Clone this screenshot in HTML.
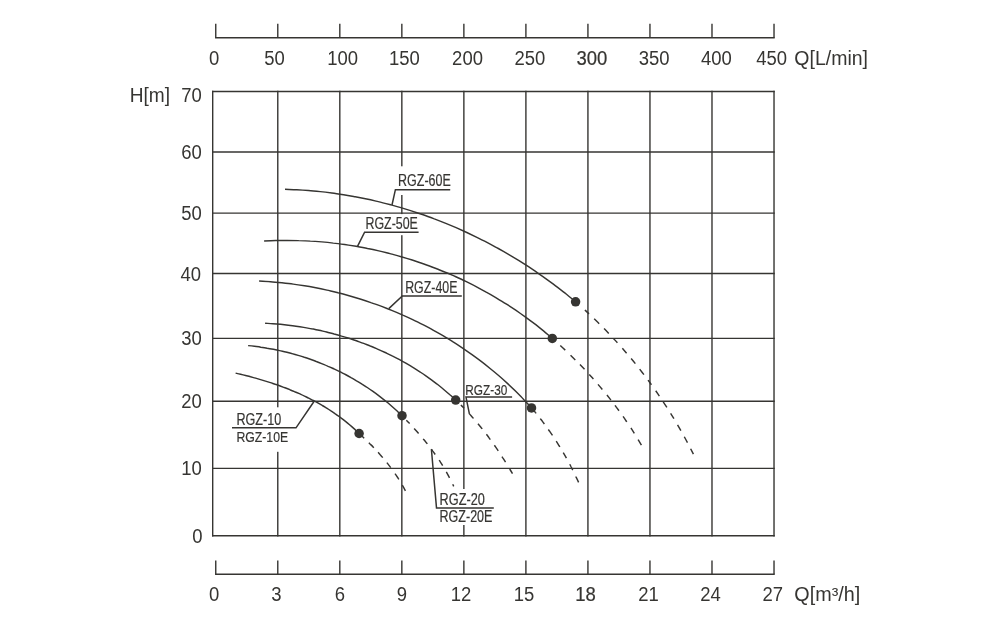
<!DOCTYPE html>
<html lang="en"><head><meta charset="utf-8"><title>RGZ pump performance curves</title>
<style>
html,body{margin:0;padding:0;background:#fff;}
body{width:1000px;height:623px;overflow:hidden;}
svg{display:block;}
text{font-family:"Liberation Sans",sans-serif;fill:#363532;}
.ax{font-size:19.6px;}
.lb{font-size:17px;stroke:#363532;stroke-width:0.2px;}
.bd{stroke:#363532;stroke-width:0.22px;}
</style></head><body>
<svg width="1000" height="623" viewBox="0 0 1000 623">
<rect width="1000" height="623" fill="#fff"/>

<g stroke="#363532" stroke-width="1.4" fill="none" stroke-linecap="butt">
<line x1="212.70" y1="90.80" x2="212.70" y2="536.40"/>
<line x1="277.78" y1="90.80" x2="277.78" y2="536.40"/>
<line x1="339.81" y1="90.80" x2="339.81" y2="536.40"/>
<line x1="401.84" y1="90.80" x2="401.84" y2="536.40"/>
<line x1="463.87" y1="90.80" x2="463.87" y2="536.40"/>
<line x1="525.90" y1="90.80" x2="525.90" y2="536.40"/>
<line x1="587.93" y1="90.80" x2="587.93" y2="536.40"/>
<line x1="649.96" y1="90.80" x2="649.96" y2="536.40"/>
<line x1="711.99" y1="90.80" x2="711.99" y2="536.40"/>
<line x1="774.02" y1="90.80" x2="774.02" y2="536.40"/>
<line x1="212.00" y1="91.50" x2="774.72" y2="91.50"/>
<line x1="212.00" y1="152.00" x2="774.72" y2="152.00"/>
<line x1="212.00" y1="213.10" x2="774.72" y2="213.10"/>
<line x1="212.00" y1="273.50" x2="774.72" y2="273.50"/>
<line x1="212.00" y1="338.40" x2="774.72" y2="338.40"/>
<line x1="212.00" y1="401.30" x2="774.72" y2="401.30"/>
<line x1="212.00" y1="468.40" x2="774.72" y2="468.40"/>
<line x1="212.00" y1="535.70" x2="774.72" y2="535.70"/>
<line x1="215.05" y1="37.8" x2="774.72" y2="37.8"/>
<line x1="215.75" y1="23.7" x2="215.75" y2="37.8"/>
<line x1="277.78" y1="23.7" x2="277.78" y2="37.8"/>
<line x1="339.81" y1="23.7" x2="339.81" y2="37.8"/>
<line x1="401.84" y1="23.7" x2="401.84" y2="37.8"/>
<line x1="463.87" y1="23.7" x2="463.87" y2="37.8"/>
<line x1="525.90" y1="23.7" x2="525.90" y2="37.8"/>
<line x1="587.93" y1="23.7" x2="587.93" y2="37.8"/>
<line x1="649.96" y1="23.7" x2="649.96" y2="37.8"/>
<line x1="711.99" y1="23.7" x2="711.99" y2="37.8"/>
<line x1="774.02" y1="23.7" x2="774.02" y2="37.8"/>
<line x1="215.05" y1="574.2" x2="774.72" y2="574.2"/>
<line x1="215.75" y1="560.5" x2="215.75" y2="574.2"/>
<line x1="277.78" y1="560.5" x2="277.78" y2="574.2"/>
<line x1="339.81" y1="560.5" x2="339.81" y2="574.2"/>
<line x1="401.84" y1="560.5" x2="401.84" y2="574.2"/>
<line x1="463.87" y1="560.5" x2="463.87" y2="574.2"/>
<line x1="525.90" y1="560.5" x2="525.90" y2="574.2"/>
<line x1="587.93" y1="560.5" x2="587.93" y2="574.2"/>
<line x1="649.96" y1="560.5" x2="649.96" y2="574.2"/>
<line x1="711.99" y1="560.5" x2="711.99" y2="574.2"/>
<line x1="774.02" y1="560.5" x2="774.02" y2="574.2"/>
</g>
<rect x="395.0" y="166.3" width="58.0" height="28.7" fill="#fff"/>
<rect x="364.5" y="214.1" width="54.0" height="21.1" fill="#fff"/>
<rect x="232.0" y="407.3" width="58.0" height="44.5" fill="#fff"/>
<rect x="437.0" y="489.0" width="57.0" height="36.0" fill="#fff"/>
<g stroke="#363532" stroke-width="1.45" fill="none" stroke-linecap="butt" stroke-linejoin="round">
<path d="M285.0,189.3C287.0,189.4 292.9,189.5 296.8,189.7C300.7,190.0 304.6,190.2 308.5,190.5C312.5,190.8 316.4,191.2 320.3,191.6C324.2,192.0 328.1,192.5 331.9,193.0C335.8,193.5 339.7,194.1 343.6,194.7C347.5,195.3 351.3,196.0 355.2,196.7C359.0,197.4 362.9,198.2 366.7,199.0C370.5,199.8 374.3,200.7 378.2,201.6C382.0,202.5 385.8,203.5 389.6,204.5C393.3,205.5 397.1,206.5 400.9,207.6C404.6,208.8 408.4,209.9 412.1,211.1C415.8,212.3 419.5,213.6 423.2,214.8C426.9,216.1 430.6,217.5 434.3,218.9C438.0,220.2 441.6,221.7 445.2,223.1C448.9,224.6 452.5,226.1 456.1,227.7C459.7,229.3 463.3,230.9 466.8,232.5C470.4,234.2 473.9,235.9 477.4,237.6C480.9,239.3 484.4,241.1 487.9,242.9C491.4,244.7 494.8,246.6 498.3,248.5C501.7,250.4 505.1,252.4 508.5,254.3C511.9,256.3 515.2,258.4 518.6,260.4C521.9,262.5 525.2,264.6 528.5,266.7C531.8,268.9 535.0,271.1 538.2,273.3C541.5,275.5 544.7,277.8 547.8,280.1C551.0,282.4 554.2,284.7 557.3,287.1C560.4,289.5 563.5,291.9 566.5,294.3C569.6,296.8 574.1,300.6 575.6,301.8"/>
<path d="M575.6,301.8C577.2,303.2 582.1,307.5 585.3,310.4C588.4,313.3 591.6,316.3 594.7,319.3C597.8,322.3 600.8,325.3 603.9,328.4C606.9,331.4 609.9,334.6 612.8,337.7C615.7,340.9 618.6,344.0 621.5,347.3C624.3,350.5 627.1,353.8 629.9,357.1C632.7,360.4 635.4,363.7 638.1,367.1C640.7,370.5 643.4,373.9 646.0,377.3C648.5,380.8 651.1,384.2 653.6,387.7C656.1,391.3 658.5,394.8 660.9,398.4C663.3,401.9 665.7,405.5 668.0,409.2C670.3,412.8 672.6,416.5 674.8,420.2C677.0,423.9 679.2,427.6 681.3,431.4C683.4,435.1 685.5,438.9 687.5,442.7C689.5,446.5 692.4,452.3 693.4,454.2" stroke-dasharray="0.0 12.4 5.7 7.1 7.0 6.9 6.7 6.9 5.9 7.4 6.5 7.0 6.6 7.0 6.9 6.9 5.7 7.4 6.5 6.9 6.7 7.0 6.3 7.1 6.7 7.0 6.7 6.9 6.7 50.0"/>
<path d="M264.1,241.0C266.0,240.9 271.8,240.6 275.6,240.5C279.5,240.4 283.3,240.4 287.2,240.4C291.0,240.4 294.9,240.4 298.7,240.6C302.6,240.7 306.4,240.8 310.3,241.1C314.1,241.3 318.0,241.6 321.8,241.9C325.6,242.2 329.5,242.6 333.3,243.1C337.1,243.5 340.9,244.0 344.7,244.5C348.5,245.1 352.4,245.7 356.1,246.3C359.9,247.0 363.7,247.7 367.5,248.5C371.3,249.2 375.0,250.0 378.8,250.9C382.5,251.7 386.3,252.7 390.0,253.6C393.7,254.6 397.5,255.6 401.2,256.7C404.9,257.8 408.5,258.9 412.2,260.0C415.9,261.2 419.5,262.4 423.2,263.7C426.8,265.0 430.4,266.3 434.0,267.7C437.6,269.1 441.2,270.5 444.7,272.0C448.3,273.4 451.8,275.0 455.3,276.5C458.8,278.1 462.3,279.7 465.8,281.4C469.2,283.1 472.7,284.8 476.1,286.6C479.5,288.4 482.9,290.2 486.2,292.1C489.6,293.9 492.9,295.8 496.2,297.8C499.5,299.8 502.8,301.8 506.1,303.9C509.3,305.9 512.5,308.0 515.7,310.2C518.9,312.4 522.0,314.6 525.2,316.8C528.3,319.1 531.4,321.4 534.4,323.7C537.5,326.1 540.5,328.5 543.5,330.9C546.5,333.4 550.8,337.2 552.3,338.4"/>
<path d="M552.3,338.4C553.5,339.4 557.0,342.5 559.3,344.6C561.6,346.7 563.8,348.8 566.1,350.9C568.3,353.1 570.6,355.2 572.8,357.4C575.0,359.6 577.2,361.8 579.4,364.0C581.5,366.2 583.7,368.5 585.8,370.7C587.9,373.0 590.0,375.3 592.1,377.6C594.1,379.9 596.2,382.2 598.2,384.6C600.2,386.9 602.2,389.3 604.2,391.7C606.2,394.1 608.1,396.5 610.0,398.9C611.9,401.4 613.8,403.8 615.7,406.3C617.5,408.8 619.4,411.3 621.2,413.8C623.0,416.3 624.8,418.9 626.5,421.5C628.2,424.0 630.0,426.6 631.7,429.2C633.3,431.8 635.0,434.4 636.6,437.1C638.2,439.7 640.6,443.8 641.4,445.1" stroke-dasharray="0.0 10.7 6.8 7.3 6.7 6.6 6.6 7.0 6.2 7.0 6.7 7.2 6.4 6.7 6.7 7.0 6.6 7.4 6.4 7.2 7.0 50.0"/>
<path d="M259.1,281.0C261.0,281.1 266.7,281.4 270.5,281.7C274.3,282.0 278.1,282.4 281.9,282.8C285.7,283.2 289.5,283.6 293.2,284.1C297.0,284.6 300.8,285.2 304.5,285.8C308.3,286.4 312.1,287.1 315.8,287.8C319.5,288.5 323.3,289.3 327.0,290.1C330.7,291.0 334.4,291.8 338.1,292.8C341.8,293.7 345.5,294.7 349.1,295.7C352.8,296.8 356.5,297.9 360.1,299.0C363.7,300.1 367.3,301.3 370.9,302.6C374.5,303.8 378.1,305.1 381.7,306.4C385.2,307.8 388.8,309.2 392.3,310.6C395.8,312.0 399.3,313.5 402.8,315.1C406.3,316.6 409.7,318.2 413.2,319.9C416.6,321.5 420.0,323.2 423.4,324.9C426.8,326.7 430.1,328.4 433.5,330.3C436.8,332.1 440.1,334.0 443.4,335.9C446.6,337.9 449.9,339.8 453.1,341.9C456.3,343.9 459.5,346.0 462.6,348.1C465.8,350.2 468.9,352.4 472.0,354.6C475.1,356.8 478.2,359.1 481.2,361.4C484.2,363.7 487.2,366.1 490.1,368.5C493.1,370.9 496.0,373.3 498.9,375.8C501.8,378.3 504.6,380.8 507.4,383.4C510.2,386.0 513.0,388.6 515.7,391.3C518.4,394.0 521.1,396.7 523.7,399.5C526.4,402.2 530.2,406.5 531.5,407.9"/>
<path d="M531.5,407.9C532.1,408.7 534.1,410.9 535.3,412.4C536.6,413.9 537.8,415.4 539.0,417.0C540.2,418.5 541.4,420.1 542.6,421.6C543.8,423.2 545.0,424.8 546.1,426.4C547.3,428.0 548.4,429.6 549.6,431.2C550.7,432.8 551.8,434.4 552.9,436.0C554.0,437.7 555.1,439.3 556.1,441.0C557.2,442.6 558.2,444.3 559.3,446.0C560.3,447.6 561.3,449.3 562.3,451.0C563.3,452.7 564.3,454.4 565.3,456.1C566.2,457.8 567.2,459.6 568.1,461.3C569.1,463.0 570.0,464.7 570.9,466.5C571.8,468.2 572.7,470.0 573.5,471.8C574.4,473.5 575.3,475.3 576.1,477.1C577.0,478.8 578.2,481.5 578.6,482.4" stroke-dasharray="7.2 6.6 6.8 6.8 7.2 6.9 6.8 6.6 6.4 7.0 6.5 7.1 7.0 50.0"/>
<path d="M265.1,323.2C266.4,323.3 270.3,323.5 272.8,323.7C275.4,323.9 278.0,324.1 280.6,324.3C283.2,324.6 285.7,324.9 288.3,325.2C290.9,325.5 293.4,325.8 296.0,326.2C298.6,326.6 301.1,327.0 303.7,327.4C306.3,327.8 308.8,328.3 311.4,328.8C313.9,329.2 316.4,329.8 319.0,330.3C321.5,330.9 324.1,331.4 326.6,332.0C329.1,332.7 331.6,333.3 334.1,334.0C336.6,334.6 339.1,335.3 341.6,336.1C344.1,336.8 346.6,337.5 349.1,338.3C351.5,339.1 354.0,339.9 356.4,340.8C358.9,341.7 361.3,342.5 363.7,343.4C366.2,344.4 368.6,345.3 371.0,346.3C373.4,347.2 375.8,348.3 378.1,349.3C380.5,350.3 382.9,351.4 385.2,352.5C387.5,353.6 389.9,354.7 392.2,355.9C394.5,357.0 396.8,358.2 399.1,359.4C401.3,360.7 403.6,361.9 405.8,363.2C408.1,364.5 410.3,365.8 412.5,367.2C414.7,368.5 416.9,369.9 419.1,371.3C421.2,372.7 423.4,374.1 425.5,375.6C427.6,377.1 429.7,378.6 431.8,380.1C433.9,381.7 436.0,383.2 438.0,384.8C440.0,386.4 442.1,388.1 444.0,389.7C446.0,391.4 448.0,393.1 449.9,394.8C451.9,396.5 454.7,399.2 455.7,400.1"/>
<path d="M455.7,400.1C456.5,400.8 458.7,403.0 460.2,404.4C461.7,405.9 463.2,407.3 464.6,408.8C466.0,410.3 467.5,411.8 468.9,413.3C470.3,414.9 471.7,416.4 473.0,417.9C474.4,419.5 475.8,421.1 477.1,422.7C478.4,424.2 479.8,425.8 481.1,427.5C482.4,429.1 483.6,430.7 484.9,432.3C486.2,434.0 487.4,435.6 488.7,437.3C489.9,439.0 491.1,440.6 492.3,442.3C493.5,444.0 494.7,445.7 495.9,447.4C497.1,449.1 498.2,450.8 499.4,452.6C500.5,454.3 501.7,456.0 502.8,457.8C503.9,459.5 505.0,461.3 506.1,463.0C507.2,464.8 508.3,466.6 509.3,468.4C510.4,470.1 512.0,472.8 512.5,473.7" stroke-dasharray="0.0 7.1 4.6 7.4 6.4 7.0 6.7 6.8 6.6 7.0 6.8 6.8 6.6 8.1 5.9 50.0"/>
<path d="M248.1,345.6C249.2,345.7 252.3,346.0 254.4,346.3C256.6,346.6 258.7,346.8 260.8,347.2C262.9,347.5 265.0,347.8 267.1,348.2C269.2,348.5 271.3,348.9 273.4,349.3C275.5,349.7 277.5,350.1 279.6,350.6C281.7,351.1 283.8,351.5 285.8,352.0C287.9,352.6 290.0,353.1 292.0,353.6C294.1,354.2 296.1,354.8 298.2,355.4C300.2,356.0 302.2,356.6 304.3,357.3C306.3,357.9 308.3,358.6 310.3,359.3C312.3,360.0 314.3,360.7 316.3,361.5C318.3,362.2 320.3,363.0 322.3,363.8C324.2,364.6 326.2,365.4 328.1,366.3C330.1,367.1 332.0,368.0 334.0,368.9C335.9,369.8 337.8,370.7 339.7,371.6C341.6,372.6 343.5,373.5 345.4,374.5C347.3,375.5 349.1,376.5 351.0,377.6C352.9,378.6 354.7,379.7 356.5,380.8C358.4,381.8 360.2,382.9 362.0,384.1C363.8,385.2 365.5,386.4 367.3,387.5C369.1,388.7 370.8,389.9 372.6,391.2C374.3,392.4 376.0,393.6 377.7,394.9C379.4,396.2 381.1,397.5 382.8,398.8C384.5,400.1 386.1,401.4 387.8,402.8C389.4,404.2 391.0,405.6 392.6,407.0C394.2,408.4 395.8,409.8 397.4,411.3C398.9,412.7 401.2,415.0 402.0,415.7"/>
<path d="M402.0,415.7C402.7,416.4 404.7,418.5 406.1,419.9C407.5,421.3 408.8,422.7 410.1,424.1C411.5,425.6 412.8,427.0 414.1,428.5C415.4,429.9 416.8,431.4 418.0,432.8C419.3,434.3 420.6,435.8 421.9,437.3C423.1,438.8 424.4,440.3 425.6,441.8C426.9,443.3 428.1,444.9 429.3,446.4C430.5,448.0 431.7,449.5 432.8,451.1C434.0,452.7 435.1,454.3 436.2,455.9C437.4,457.5 438.5,459.1 439.5,460.7C440.6,462.4 441.7,464.0 442.7,465.7C443.7,467.3 444.7,469.0 445.7,470.7C446.7,472.4 447.6,474.1 448.5,475.8C449.4,477.6 450.3,479.3 451.2,481.1C452.1,482.8 453.3,485.5 453.7,486.4" stroke-dasharray="0.0 6.2 4.8 6.7 6.6 7.1 6.5 6.6 6.6 7.0 6.4 7.2 6.8 7.2 2.7 50.0"/>
<path d="M235.6,373.1C236.4,373.3 238.9,373.9 240.6,374.3C242.3,374.7 243.9,375.1 245.6,375.5C247.2,375.9 248.9,376.3 250.6,376.8C252.2,377.2 253.9,377.7 255.6,378.1C257.2,378.6 258.9,379.1 260.5,379.6C262.2,380.1 263.8,380.6 265.5,381.1C267.1,381.6 268.8,382.1 270.4,382.6C272.0,383.2 273.7,383.7 275.3,384.3C276.9,384.8 278.6,385.4 280.2,386.0C281.8,386.6 283.4,387.2 285.0,387.8C286.7,388.4 288.3,389.0 289.9,389.7C291.5,390.3 293.1,391.0 294.6,391.7C296.2,392.3 297.8,393.0 299.4,393.7C300.9,394.4 302.5,395.1 304.1,395.9C305.6,396.6 307.2,397.4 308.7,398.1C310.2,398.9 311.8,399.7 313.3,400.5C314.8,401.3 316.3,402.1 317.8,402.9C319.3,403.8 320.8,404.6 322.3,405.5C323.8,406.3 325.2,407.2 326.7,408.1C328.1,409.0 329.6,410.0 331.0,410.9C332.5,411.8 333.9,412.8 335.3,413.8C336.7,414.7 338.1,415.7 339.5,416.8C340.8,417.8 342.2,418.8 343.6,419.9C344.9,420.9 346.3,422.0 347.6,423.1C348.9,424.2 350.2,425.3 351.5,426.4C352.8,427.6 354.1,428.7 355.4,429.9C356.6,431.1 358.5,432.9 359.1,433.5"/>
<path d="M359.1,433.5C359.7,434.1 361.5,435.7 362.7,436.8C363.9,438.0 365.1,439.1 366.3,440.2C367.5,441.4 368.7,442.5 369.8,443.7C371.0,444.9 372.2,446.0 373.3,447.2C374.4,448.4 375.6,449.6 376.7,450.8C377.8,452.0 378.9,453.2 380.0,454.5C381.1,455.7 382.2,457.0 383.2,458.2C384.3,459.5 385.4,460.7 386.4,462.0C387.4,463.3 388.4,464.6 389.4,465.9C390.4,467.2 391.4,468.5 392.4,469.9C393.3,471.2 394.3,472.5 395.2,473.9C396.2,475.2 397.1,476.6 398.0,478.0C398.8,479.4 399.7,480.8 400.6,482.2C401.4,483.6 402.2,485.0 403.0,486.4C403.9,487.9 405.0,490.1 405.4,490.8" stroke-dasharray="6.9 6.5 7.1 6.3 7.0 6.5 6.4 7.3 7.0 6.7 6.9 50.0"/>
</g>
<circle cx="575.6" cy="301.8" r="4.75" fill="#363532"/>
<circle cx="552.3" cy="338.4" r="4.75" fill="#363532"/>
<circle cx="531.5" cy="407.9" r="4.75" fill="#363532"/>
<circle cx="455.7" cy="400.1" r="4.75" fill="#363532"/>
<circle cx="402.0" cy="415.7" r="4.75" fill="#363532"/>
<circle cx="359.1" cy="433.5" r="4.75" fill="#363532"/>
<g stroke="#363532" stroke-width="1.5" fill="none" stroke-linejoin="miter">
<polyline points="450.2,189.7 395.4,189.7 392,205"/>
<polyline points="418.6,232.2 364.6,232.2 357.5,246.4"/>
<polyline points="461.8,296 402.3,296 388.8,308.6"/>
<polyline points="512.1,397.1 466,397.1 469.4,413.9"/>
<polyline points="232,427.8 296,427.8 314,401.5"/>
<polyline points="493.8,507.9 436.5,507.9 431.4,449.3"/>
</g>
<text class="lb" style="font-size:17px" x="398.1" y="185.7" textLength="52.7" lengthAdjust="spacingAndGlyphs">RGZ-60E</text>
<text class="lb" style="font-size:17px" x="365.5" y="229.1" textLength="52.4" lengthAdjust="spacingAndGlyphs">RGZ-50E</text>
<text class="lb" style="font-size:17px" x="405.2" y="293.1" textLength="52.2" lengthAdjust="spacingAndGlyphs">RGZ-40E</text>
<text class="lb" style="font-size:15.5px" x="465.3" y="394.7" textLength="42.0" lengthAdjust="spacingAndGlyphs">RGZ-30</text>
<text class="lb" style="font-size:16.2px" x="236.4" y="425.1" textLength="44.8" lengthAdjust="spacingAndGlyphs">RGZ-10</text>
<text class="lb" style="font-size:15.5px" x="236.4" y="442.0" textLength="51.8" lengthAdjust="spacingAndGlyphs">RGZ-10E</text>
<text class="lb" style="font-size:15.7px" x="439.6" y="505.0" textLength="45.2" lengthAdjust="spacingAndGlyphs">RGZ-20</text>
<text class="lb" style="font-size:15.7px" x="439.6" y="521.8" textLength="52.8" lengthAdjust="spacingAndGlyphs">RGZ-20E</text>
<text class="ax" transform="translate(208.9,64.7) scale(0.9439,1)">0</text>
<text class="ax" transform="translate(264.2,64.7) scale(0.9439,1)">50</text>
<text class="ax" transform="translate(327.3,64.7) scale(0.9439,1)">100</text>
<text class="ax" transform="translate(388.9,64.7) scale(0.9439,1)">150</text>
<text class="ax" transform="translate(452.1,64.7) scale(0.9439,1)">200</text>
<text class="ax" transform="translate(514.5,64.7) scale(0.9439,1)">250</text>
<text class="ax bd" transform="translate(576.4,64.7) scale(0.9439,1)">300</text>
<text class="ax" transform="translate(638.8,64.7) scale(0.9439,1)">350</text>
<text class="ax" transform="translate(700.9,64.7) scale(0.9439,1)">400</text>
<text class="ax" transform="translate(756.3,64.7) scale(0.9439,1)">450</text>
<text class="ax" x="794.3" y="64.7" textLength="73.7" lengthAdjust="spacingAndGlyphs">Q[L/min]</text>
<text class="ax" transform="translate(208.9,601.3) scale(0.9439,1)">0</text>
<text class="ax" transform="translate(271.3,601.3) scale(0.9439,1)">3</text>
<text class="ax" transform="translate(334.7,601.3) scale(0.9439,1)">6</text>
<text class="ax" transform="translate(396.7,601.3) scale(0.9439,1)">9</text>
<text class="ax" transform="translate(450.7,601.3) scale(0.9439,1)">12</text>
<text class="ax" transform="translate(513.7,601.3) scale(0.9439,1)">15</text>
<text class="ax bd" transform="translate(575.3,601.3) scale(0.9439,1)">18</text>
<text class="ax" transform="translate(638.3,601.3) scale(0.9439,1)">21</text>
<text class="ax" transform="translate(700.2,601.3) scale(0.9439,1)">24</text>
<text class="ax" transform="translate(762.5,601.3) scale(0.9439,1)">27</text>
<text class="ax" x="794.3" y="601.3" textLength="65.9" lengthAdjust="spacingAndGlyphs">Q[m³/h]</text>
<text class="ax" transform="translate(181.2,101.8) scale(0.9439,1)">70</text>
<text class="ax" transform="translate(181.3,159.2) scale(0.9439,1)">60</text>
<text class="ax" transform="translate(181.3,220.2) scale(0.9439,1)">50</text>
<text class="ax" transform="translate(180.5,280.8) scale(0.9439,1)">40</text>
<text class="ax" transform="translate(181.3,345.3) scale(0.9439,1)">30</text>
<text class="ax" transform="translate(181.3,408.4) scale(0.9439,1)">20</text>
<text class="ax" transform="translate(181.3,475.3) scale(0.9439,1)">10</text>
<text class="ax" transform="translate(192.2,542.9) scale(0.9439,1)">0</text>
<text class="ax" x="129.7" y="101.8" textLength="40.3" lengthAdjust="spacingAndGlyphs">H[m]</text>
</svg></body></html>
